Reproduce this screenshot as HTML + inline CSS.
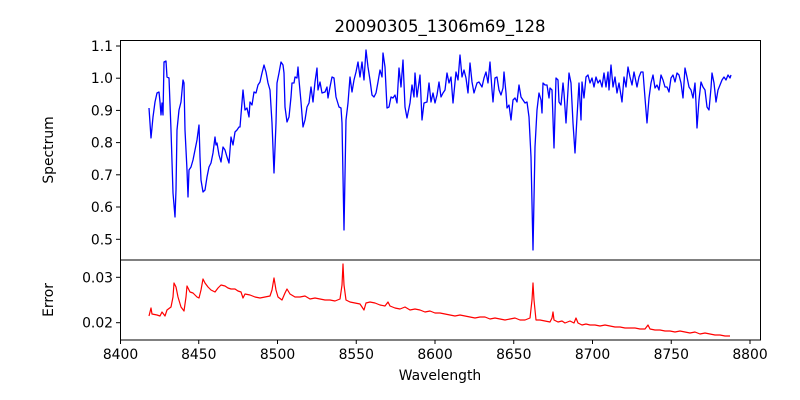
<!DOCTYPE html>
<html><head><meta charset="utf-8"><style>
html,body{margin:0;padding:0;background:#fff;}
svg{display:block;font-family:"DejaVu Sans","Liberation Sans",sans-serif;}
</style></head><body>
<svg width="800" height="400" viewBox="0 0 800 400" xmlns="http://www.w3.org/2000/svg">
<rect width="800" height="400" fill="#fff"/>
<text x="440" y="32" font-size="16.5" text-anchor="middle">20090305_1306m69_128</text>
<!-- spectrum -->
<polyline fill="none" stroke="#0000ff" stroke-width="1.3" stroke-linejoin="round" points="149,108 151,138 153,117 155,102 157,93 159,92 160,102 161,115 162,103 163,115 164,62 166,61 167,77 169,78 171,130 173,193 175,217 176,190 177,130 179,110 181,102 183,80 184,83 185,130 187,170 188,197 189,170 191,167 193,160 195,150 197,140 199,125 200,157 201,180 203,192 205,190 207,177 209,167 211,163 213,153 215,137 216,145 217,143 219,155 221,162 223,147 225,150 227,157 229,163 230,150 231,137 233,145 235,132 237,130 239,127 240,127 243,90 245,110 247,108 249,117 250,102 252,105 254,92 256,93 258,85 260,82 262,73 264,65 266,72 268,83 270,90 272,123 274,173 276,123 277,83 279,73 281,62 283,65 284,73 285,107 287,122 289,117 291,97 292,83 294,83 295,77 297,78 298,67 299,80 301,102 303,127 305,120 307,107 309,103 311,87 313,102 315,82 317,68 318,90 320,82 322,93 325,92 327,87 328,98 330,87 332,77 334,78 336,97 339,107 341,108 342,123 344,230 346,120 348,103 350,77 352,92 354,80 356,72 358,62 360,77 362,62 364,80 366,50 368,67 370,80 372,95 374,97 376,93 378,82 380,70 382,77 383,53 385,67 387,108 389,107 391,97 393,98 395,95 397,103 399,68 401,87 403,60 405,107 407,118 410,103 412,85 414,97 415,73 417,97 420,75 422,120 424,103 427,102 429,83 431,102 433,93 435,103 437,95 439,82 441,97 443,93 445,90 447,73 449,83 451,77 453,103 456,72 458,80 460,55 462,77 464,70 466,78 468,93 470,63 472,82 474,93 477,83 479,82 482,87 484,78 486,72 488,83 490,62 492,90 493,102 495,78 497,77 499,90 501,95 503,88 504,72 506,93 507,108 509,105 511,120 513,100 515,98 517,102 519,85 521,97 523,100 525,103 527,102 529,117 531,157 533,250 535,147 537,110 539,93 541,100 542,113 543,83 545,85 547,85 549,98 550,88 552,90 554,148 556,78 558,80 559,102 561,105 563,83 564,93 566,123 568,90 569,73 571,83 573,123 575,153 577,117 579,83 581,120 582,82 584,98 586,77 588,75 590,83 592,78 594,87 596,77 598,83 600,80 602,87 604,73 606,87 608,72 609,90 611,65 613,87 615,77 617,93 619,83 622,102 624,77 626,87 628,67 630,77 632,85 634,72 637,87 639,77 641,72 643,72 645,98 647,123 649,98 651,83 653,75 655,88 657,85 659,90 661,75 663,80 665,87 667,87 669,92 671,78 673,75 675,82 677,73 679,75 681,83 683,98 685,68 687,77 689,87 691,90 693,98 695,83 696,103 697,128 699,100 701,82 703,87 705,90 707,107 709,110 711,88 712,73 714,83 716,102 718,90 720,85 722,80 724,77 726,80 728,75 730,78 731,75"/>
<!-- error -->
<polyline fill="none" stroke="#ff0000" stroke-width="1.2" stroke-linejoin="round" points="149,316 151,308 152,314 157,315 160,316 162,312 165,316 167,310 171,307 173,297 174,283 176,287 178,297 181,307 184,311 186,297 187,286 190,292 193,293 197,297 199,298 201,290 203,279 205,283 208,287 211,290 215,292 218,288 221,285 225,286 228,288 231,289 235,289 238,291 241,292 243,298 245,294 250,295 255,297 260,298 265,297 270,296 272,290 274,278 276,290 278,297 282,300 285,293 287,289 290,294 295,297 300,297 305,296 310,299 315,298 320,299 325,300 330,300 335,301 340,299 342,285 343,264 344,285 346,300 350,302 355,303 360,304 364,310 366,303 370,302 375,303 380,305 385,306 388,302 390,306 395,308 400,309 405,307 410,310 415,309 420,310 425,312 430,311 435,313 440,313 445,314 450,315 455,316 460,315 465,316 470,317 475,318 480,317 485,317 490,319 495,318 500,319 505,320 510,319 515,318 520,320 525,320 530,318 532,300 533,283 534,300 536,320 540,320 545,321 550,322 552,318 553,312 554,320 558,322 562,321 565,323 570,321 574,323 576,318 578,323 582,325 586,324 590,325 595,325 600,326 605,325 610,326 615,327 620,327 625,328 630,328 635,328 640,329 645,329 648,325 650,329 655,330 660,330 665,331 670,331 675,332 680,331 685,332 690,333 695,332 700,334 705,333 710,334 715,335 720,335 725,336 730,336"/>
<!-- axes frames -->
<rect x="120.5" y="40.5" width="640" height="219.5" fill="none" stroke="#000" stroke-width="1"/>
<rect x="120.5" y="260" width="640" height="80" fill="none" stroke="#000" stroke-width="1"/>
<g stroke="#000" stroke-width="1">
<line x1="116" y1="46" x2="120" y2="46"/><line x1="116" y1="78.2" x2="120" y2="78.2"/><line x1="116" y1="110.4" x2="120" y2="110.4"/><line x1="116" y1="142.6" x2="120" y2="142.6"/><line x1="116" y1="174.8" x2="120" y2="174.8"/><line x1="116" y1="207" x2="120" y2="207"/><line x1="116" y1="239.3" x2="120" y2="239.3"/>
<line x1="116" y1="277.3" x2="120" y2="277.3"/><line x1="116" y1="322.7" x2="120" y2="322.7"/>
<line x1="120.5" y1="340" x2="120.5" y2="344"/><line x1="198.75" y1="340" x2="198.75" y2="344"/><line x1="277.5" y1="340" x2="277.5" y2="344"/><line x1="356.25" y1="340" x2="356.25" y2="344"/><line x1="435" y1="340" x2="435" y2="344"/><line x1="513.75" y1="340" x2="513.75" y2="344"/><line x1="592.5" y1="340" x2="592.5" y2="344"/><line x1="671.25" y1="340" x2="671.25" y2="344"/><line x1="750" y1="340" x2="750" y2="344"/>
</g>
<g font-size="13.9" text-anchor="end">
<text x="113" y="51">1.1</text><text x="113" y="83.2">1.0</text><text x="113" y="115.4">0.9</text><text x="113" y="147.6">0.8</text><text x="113" y="179.8">0.7</text><text x="113" y="212">0.6</text><text x="113" y="244.3">0.5</text>
<text x="113" y="282.3">0.03</text><text x="113" y="327.7">0.02</text>
</g>
<g font-size="13.9" text-anchor="middle">
<text x="120.5" y="359">8400</text><text x="198.75" y="359">8450</text><text x="277.5" y="359">8500</text><text x="356.25" y="359">8550</text><text x="435" y="359">8600</text><text x="513.75" y="359">8650</text><text x="592.5" y="359">8700</text><text x="671.25" y="359">8750</text><text x="750" y="359">8800</text>
<text x="440" y="380">Wavelength</text>
<text transform="translate(53,150) rotate(-90)">Spectrum</text>
<text transform="translate(53,300) rotate(-90)">Error</text>
</g>
</svg>
</body></html>
